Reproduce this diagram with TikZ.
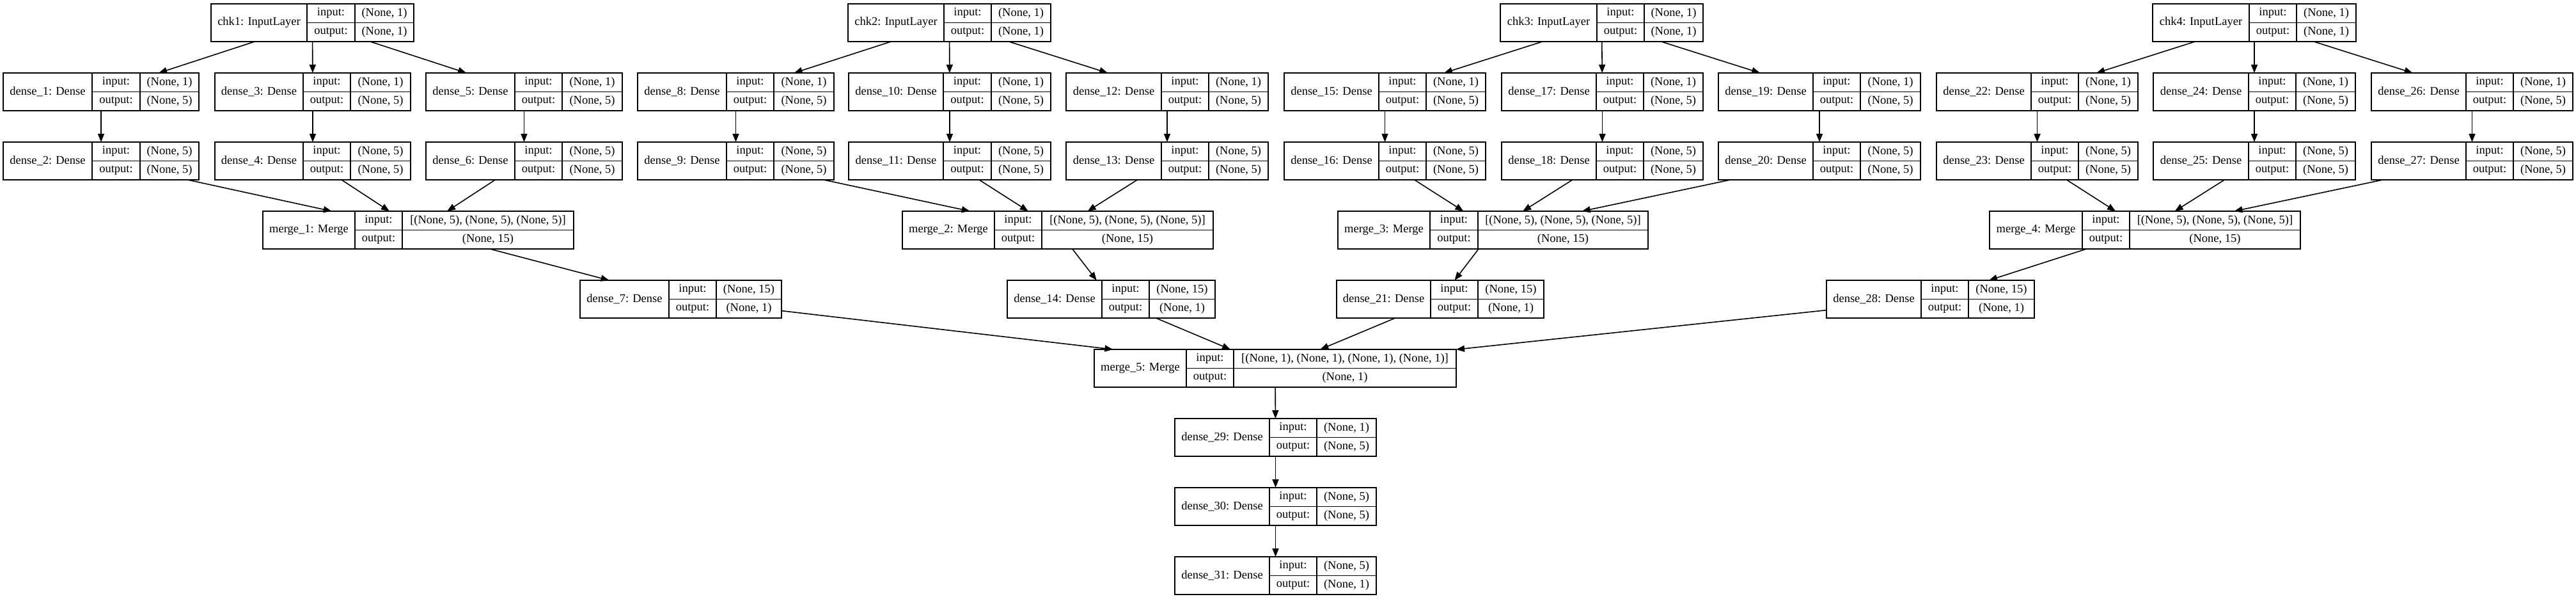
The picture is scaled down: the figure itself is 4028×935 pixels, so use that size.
\documentclass[tikz,border=0pt]{standalone}
\usepackage{fontspec}
\setmainfont{Liberation Serif}
\usetikzlibrary{arrows.meta}
\tikzset{
  recbox/.style={draw, line width=1.5pt, rectangle, minimum height=59pt, inner sep=0pt, outer sep=0pt},
  inner/.style={line width=1.5pt},
  txt/.style={inner sep=0pt, font=\fontsize{18.5}{22}\selectfont},
  edge/.style={line width=1.6pt, -{Triangle[length=13pt,width=10pt]}}
}
\newcommand\krec[9]{%
  \node[recbox, minimum width={#5-#2}] (#1) at ({(#2+#5)/2},{#6+29.5}) {};
  \draw[inner] ({#3},{#6}) -- ({#3},{#6+59}) ({#4},{#6}) -- ({#4},{#6+59}) ({#3},{#6+29.5}) -- ({#5},{#6+29.5});
  \node[txt] (#1-l) at ({(#2+#3)/2},{#6+29.5}) {#7};
  \node[txt] (#1-a) at ({(#3+#4)/2},{#6+14.75}) {input:};
  \node[txt] (#1-b) at ({(#3+#4)/2},{#6+44.25}) {output:};
  \node[txt] (#1-c) at ({(#4+#5)/2},{#6+14.75}) {#8};
  \node[txt] (#1-d) at ({(#4+#5)/2},{#6+44.25}) {#9};
}
\begin{document}
\begin{tikzpicture}[x=1pt,y=-1pt]
\useasboundingbox[fill=white] (0,0) rectangle (4028,935);
% rank 0
\krec{c1}{330}{480}{555}{647}{6}{chk1: InputLayer}{(None, 1)}{(None, 1)}
\krec{c2}{1326}{1476}{1550}{1643}{6}{chk2: InputLayer}{(None, 1)}{(None, 1)}
\krec{c3}{2346}{2497}{2571}{2663}{6}{chk3: InputLayer}{(None, 1)}{(None, 1)}
\krec{c4}{3366}{3517}{3591}{3684}{6}{chk4: InputLayer}{(None, 1)}{(None, 1)}
% rank 1
\krec{d1}{5}{144}{219}{311}{114}{dense\_1: Dense}{(None, 1)}{(None, 5)}
\krec{d3}{336}{474}{548}{642}{114}{dense\_3: Dense}{(None, 1)}{(None, 5)}
\krec{d5}{666}{805}{879}{973}{114}{dense\_5: Dense}{(None, 1)}{(None, 5)}
\krec{d8}{997}{1136}{1210}{1304}{114}{dense\_8: Dense}{(None, 1)}{(None, 5)}
\krec{d10}{1327}{1475}{1550}{1643}{114}{dense\_10: Dense}{(None, 1)}{(None, 5)}
\krec{d12}{1667}{1816}{1890}{1983}{114}{dense\_12: Dense}{(None, 1)}{(None, 5)}
\krec{d15}{2008}{2156}{2230}{2323}{114}{dense\_15: Dense}{(None, 1)}{(None, 5)}
\krec{d17}{2348}{2496}{2570}{2663}{114}{dense\_17: Dense}{(None, 1)}{(None, 5)}
\krec{d19}{2687}{2835}{2909}{3003}{114}{dense\_19: Dense}{(None, 1)}{(None, 5)}
\krec{d22}{3028}{3176}{3250}{3343}{114}{dense\_22: Dense}{(None, 1)}{(None, 5)}
\krec{d24}{3367}{3516}{3590}{3683}{114}{dense\_24: Dense}{(None, 1)}{(None, 5)}
\krec{d26}{3708}{3856}{3930}{4023}{114}{dense\_26: Dense}{(None, 1)}{(None, 5)}
% rank 2
\krec{d2}{5}{144}{219}{311}{222}{dense\_2: Dense}{(None, 5)}{(None, 5)}
\krec{d4}{336}{474}{548}{642}{222}{dense\_4: Dense}{(None, 5)}{(None, 5)}
\krec{d6}{666}{805}{879}{973}{222}{dense\_6: Dense}{(None, 5)}{(None, 5)}
\krec{d9}{997}{1136}{1210}{1304}{222}{dense\_9: Dense}{(None, 5)}{(None, 5)}
\krec{d11}{1327}{1475}{1550}{1643}{222}{dense\_11: Dense}{(None, 5)}{(None, 5)}
\krec{d13}{1667}{1816}{1890}{1983}{222}{dense\_13: Dense}{(None, 5)}{(None, 5)}
\krec{d16}{2008}{2156}{2230}{2323}{222}{dense\_16: Dense}{(None, 5)}{(None, 5)}
\krec{d18}{2348}{2496}{2570}{2663}{222}{dense\_18: Dense}{(None, 5)}{(None, 5)}
\krec{d20}{2687}{2835}{2909}{3003}{222}{dense\_20: Dense}{(None, 5)}{(None, 5)}
\krec{d23}{3028}{3176}{3250}{3343}{222}{dense\_23: Dense}{(None, 5)}{(None, 5)}
\krec{d25}{3367}{3516}{3590}{3683}{222}{dense\_25: Dense}{(None, 5)}{(None, 5)}
\krec{d27}{3708}{3856}{3930}{4023}{222}{dense\_27: Dense}{(None, 5)}{(None, 5)}
% rank 3
\krec{m1}{411}{555}{629}{897}{330}{merge\_1: Merge}{[(None, 5), (None, 5), (None, 5)]}{(None, 15)}
\krec{m2}{1411}{1555}{1629}{1897}{330}{merge\_2: Merge}{[(None, 5), (None, 5), (None, 5)]}{(None, 15)}
\krec{m3}{2092}{2236}{2311}{2577}{330}{merge\_3: Merge}{[(None, 5), (None, 5), (None, 5)]}{(None, 15)}
\krec{m4}{3111}{3256}{3330}{3597}{330}{merge\_4: Merge}{[(None, 5), (None, 5), (None, 5)]}{(None, 15)}
% rank 4
\krec{d7}{907}{1046}{1120}{1222}{438}{dense\_7: Dense}{(None, 15)}{(None, 1)}
\krec{d14}{1575}{1723}{1797}{1900}{438}{dense\_14: Dense}{(None, 15)}{(None, 1)}
\krec{d21}{2090}{2237}{2311}{2414}{438}{dense\_21: Dense}{(None, 15)}{(None, 1)}
\krec{d28}{2856}{3004}{3078}{3181}{438}{dense\_28: Dense}{(None, 15)}{(None, 1)}
% rank 5-8
\krec{m5}{1711}{1855}{1929}{2277}{546}{merge\_5: Merge}{[(None, 1), (None, 1), (None, 1), (None, 1)]}{(None, 1)}
\krec{d29}{1837}{1985}{2059}{2152}{654}{dense\_29: Dense}{(None, 1)}{(None, 5)}
\krec{d30}{1837}{1985}{2059}{2152}{762}{dense\_30: Dense}{(None, 5)}{(None, 5)}
\krec{d31}{1837}{1985}{2059}{2152}{870}{dense\_31: Dense}{(None, 5)}{(None, 1)}
% edges
\foreach \a/\b in {c1/d1,c1/d3,c1/d5,d1/d2,d3/d4,d5/d6,d2/m1,d4/m1,d6/m1,m1/d7,
  c2/d8,c2/d10,c2/d12,d8/d9,d10/d11,d12/d13,d9/m2,d11/m2,d13/m2,m2/d14,
  c3/d15,c3/d17,c3/d19,d15/d16,d17/d18,d19/d20,d16/m3,d18/m3,d20/m3,m3/d21,
  c4/d22,c4/d24,c4/d26,d22/d23,d24/d25,d26/d27,d23/m4,d25/m4,d27/m4,m4/d28,
  d7/m5,d14/m5,d21/m5,d28/m5,m5/d29,d29/d30,d30/d31}
  \draw[edge] (\a) -- (\b);
\end{tikzpicture}
\end{document}
